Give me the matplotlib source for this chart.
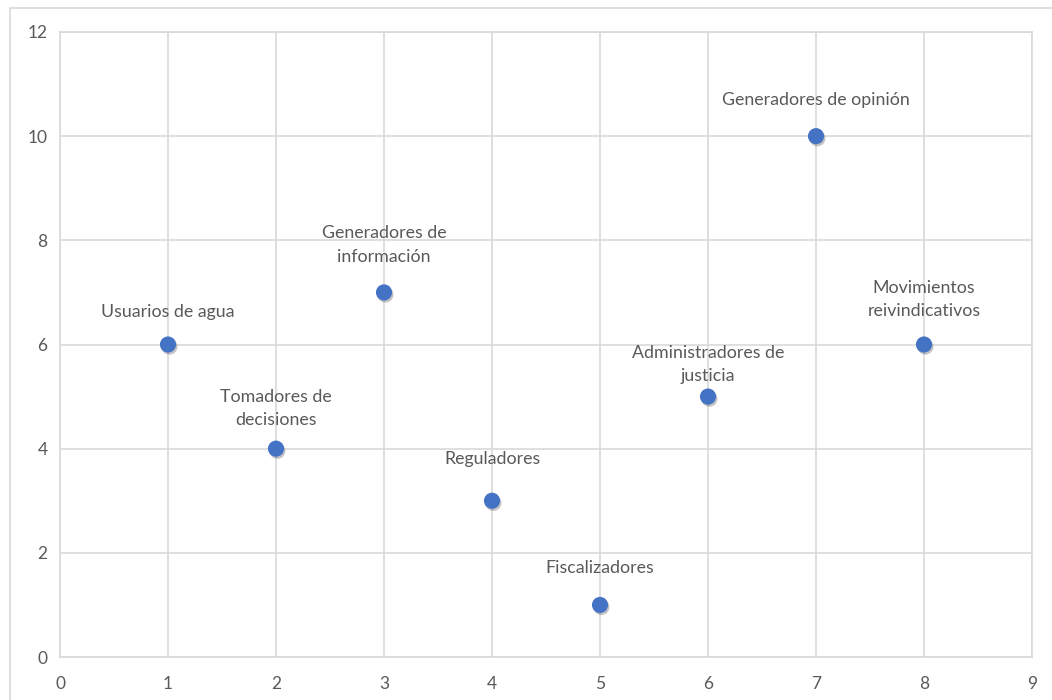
import matplotlib.pyplot as plt
import matplotlib.patheffects as pe
from matplotlib.patches import Rectangle

plt.rcParams['font.family'] = ['Lato', 'DejaVu Sans']

# Actores: posicion (x, y) y nombre
x = [1, 2, 3, 4, 5, 6, 7, 8]
y = [6, 4, 7, 3, 1, 5, 10, 6]
nombres = ['Usuarios de agua',
           'Tomadores de\ndecisiones',
           'Generadores de\ninformación',
           'Reguladores',
           'Fiscalizadores',
           'Administradores de\njusticia',
           'Generadores de opinión',
           'Movimientos\nreivindicativos']
# separacion vertical de cada etiqueta (en puntos)
desplaz = [18, 15, 20, 24, 21, 9, 20, 18]

xticks = list(range(0, 10))
yticks = list(range(0, 13, 2))

gris_grid = '#d9d9d9'
gris_txt = '#595959'
azul = '#4472c4'

fig = plt.figure(figsize=(10.52, 7.0), dpi=100)
ax = fig.add_axes([60 / 1052, 1 - 657 / 700, (1032 - 60) / 1052, (657 - 32) / 700])

# marco exterior del grafico
fig.patches.append(Rectangle((10 / 1052, -0.05), 1.1, 1 - 8 / 700 + 0.05,
                             transform=fig.transFigure, fill=False,
                             edgecolor=gris_grid, linewidth=1.2))

ax.set_xlim(0, 9)
ax.set_ylim(0, 12)
ax.set_xticks(xticks)
ax.set_yticks(yticks)
ax.grid(True, color=gris_grid, linewidth=1.2)
ax.set_axisbelow(True)
for s in ax.spines.values():
    s.set_color(gris_grid)
    s.set_linewidth(1.2)
ax.tick_params(length=0, colors=gris_txt, labelsize=12.5)
ax.tick_params(axis='x', pad=14)
ax.tick_params(axis='y', pad=9)

sombra = [pe.SimplePatchShadow(offset=(1, -1.5), shadow_rgbFace='#555555', alpha=0.35),
          pe.Normal()]
ax.scatter(x, y, s=135, color=azul, zorder=3, path_effects=sombra, linewidths=0)

for xi, yi, nom, d in zip(x, y, nombres, desplaz):
    ax.annotate(nom, (xi, yi), xytext=(0, d), textcoords='offset points',
                ha='center', va='bottom', fontsize=12.8, color=gris_txt,
                linespacing=1.55)

fig.savefig('out.png', dpi=100, facecolor='white')
